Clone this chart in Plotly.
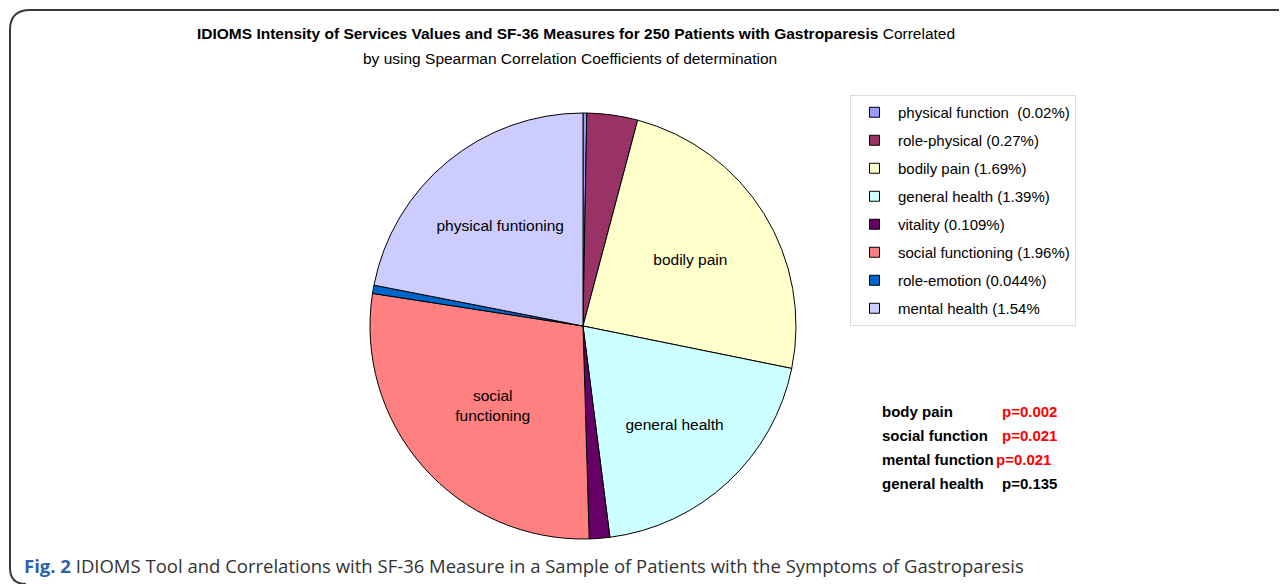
import plotly.graph_objects as go

# ---- data ----
categories = ["physical function", "role-physical", "bodily pain", "general health",
              "vitality", "social functioning", "role-emotion", "mental health"]
values = [0.02, 0.27, 1.69, 1.39, 0.109, 1.96, 0.044, 1.54]
legend_labels = ["physical function\u00a0\u00a0(0.02%)", "role-physical (0.27%)", "bodily pain (1.69%)",
                 "general health (1.39%)", "vitality (0.109%)", "social functioning (1.96%)",
                 "role-emotion (0.044%)", "mental health (1.54%"]
slice_text = ["", "", "bodily pain", "general health", "", "social<br>functioning", "", "physical funtioning"]
colors = ["#9999FF", "#993366", "#FFFFCC", "#CCFFFF", "#660066", "#FF8080", "#0066CC", "#CCCCFF"]

p_names = ["body pain", "social function", "mental function", "general health"]
p_values = ["p=0.002", "p=0.021", "p=0.021", "p=0.135"]
p_colors = ["#FF0000", "#FF0000", "#FF0000", "#000000"]

W, H = 1287, 584
OFF = 8  # page body margin
FONT = "Liberation Sans, Arial, sans-serif"

def px(x):
    return (x - OFF) / W

def py(y):
    return 1 - (y - OFF) / H

fig = go.Figure()
fig.add_trace(go.Pie(
    labels=categories,
    values=values,
    text=slice_text,
    textinfo="text",
    textposition="inside",
    insidetextorientation="horizontal",
    textfont=dict(family=FONT, size=15.5, color="black"),
    marker=dict(colors=colors, line=dict(color="black", width=1)),
    sort=False,
    direction="clockwise",
    rotation=0,
    showlegend=False,
    hoverinfo="label+value",
    domain=dict(x=[px(583 - 213), px(583 + 213)], y=[py(539), py(113)]),
))

# legend entries (one per slice, same colours)
for lab, col in zip(legend_labels, colors):
    fig.add_trace(go.Scatter(
        x=[None], y=[None], mode="markers", name=lab, legendgroup=lab,
        marker=dict(symbol="square", size=10, color=col, line=dict(color="black", width=1)),
        showlegend=True,
    ))

annotations = [
    dict(x=px(576), y=py(34), xref="paper", yref="paper", xanchor="center", yanchor="middle",
         text="<b>IDIOMS Intensity of Services Values and SF-36 Measures for 250 Patients with Gastroparesis</b> Correlated",
         showarrow=False, font=dict(family=FONT, size=15.5, color="black")),
    dict(x=px(570), y=py(58), xref="paper", yref="paper", xanchor="center", yanchor="middle",
         text="by using Spearman Correlation Coefficients of determination",
         showarrow=False, font=dict(family=FONT, size=15.5, color="black")),
    dict(x=px(22), y=py(565), xref="paper", yref="paper", xanchor="left", yanchor="middle",
         text="<b><span style='color:#2f62a8'>Fig. 2</span></b> IDIOMS Tool and Correlations with SF-36 Measure in a Sample of Patients with the Symptoms of Gastroparesis",
         showarrow=False, font=dict(family="Open Sans, sans-serif", size=18.5, color="#333333")),
]
rows_y = [411, 435, 459, 483]
p_x = [1000, 1000, 994, 1000]
for name, pv, pc, yy, xx in zip(p_names, p_values, p_colors, rows_y, p_x):
    annotations.append(dict(x=px(880), y=py(yy), xref="paper", yref="paper", xanchor="left", yanchor="middle",
                            text="<b>" + name + "</b>", showarrow=False,
                            font=dict(family=FONT, size=15, color="black")))
    annotations.append(dict(x=px(xx), y=py(yy), xref="paper", yref="paper", xanchor="left", yanchor="middle",
                            text="<b>" + pv + "</b>", showarrow=False,
                            font=dict(family=FONT, size=15, color=pc)))

frame = dict(type="path", xref="paper", yref="paper",
             path=f"M {px(1300)} {py(10)} L {px(30)} {py(10)} Q {px(10)} {py(10)} {px(10)} {py(30)} "
                  f"L {px(10)} {py(568)} Q {px(10)} {py(584)} {px(26)} {py(584)}",
             line=dict(color="#3a3a3a", width=2))

fig.update_layout(
    width=W, height=H,
    margin=dict(l=0, r=0, t=0, b=0),
    paper_bgcolor="white",
    plot_bgcolor="white",
    showlegend=True,
    xaxis=dict(visible=False, domain=[0.9, 1.0]),
    yaxis=dict(visible=False, domain=[0.0, 0.1]),
    legend=dict(x=px(850), y=py(95), xanchor="left", yanchor="top",
                bgcolor="white", bordercolor="#dddddd", borderwidth=1,
                font=dict(family=FONT, size=15, color="black"),
                traceorder="grouped", tracegroupgap=5.5, itemwidth=37,
                itemclick=False, itemdoubleclick=False),
    annotations=annotations,
    shapes=[frame],
)

fig.write_html("out.html")
